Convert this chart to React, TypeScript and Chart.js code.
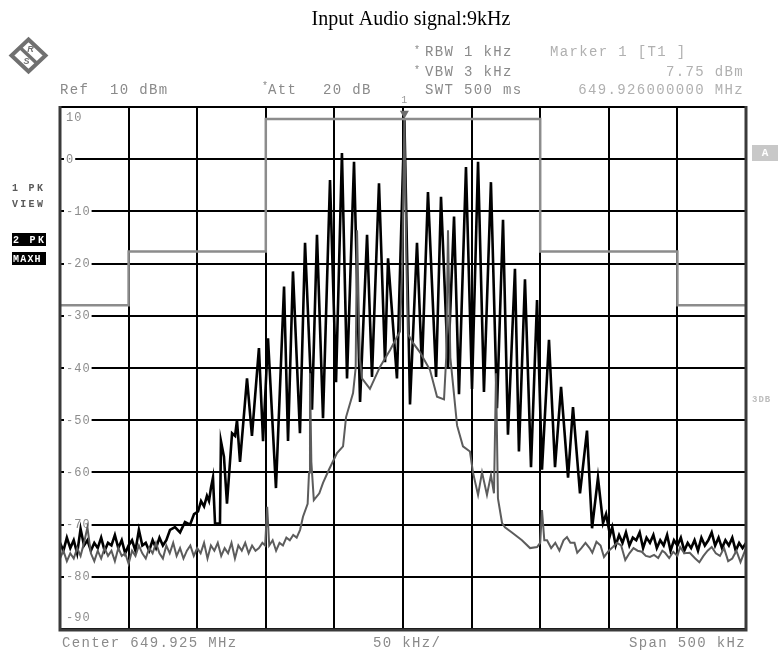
import React, { useEffect, useRef } from "react";
import { Chart, registerables } from "chart.js";

Chart.register(...registerables);

const TITLE = "Input Audio signal:9kHz";
const yTickValues = [10, 0, -10, -20, -30, -40, -50, -60, -70, -80, -90];
const xMinKHz = -250;
const xMaxKHz = 250;
const xStepKHz = 50;

// limit line (step mask)
const limitFreq = [-250, -200, -200, -100, -100, 100, 100, 200, 200, 250];
const limitLevel = [-28, -28, -17.7, -17.7, 7.7, 7.7, -17.7, -17.7, -28, -28];

// trace 2 (PK MAXH, black)
const blackFreq = [
  -250, -247.5, -245, -242.5, -240, -237.5, -235, -232.5, -230, -227.5, -225, -222.5, -220, -217.5, -215, -212.5,
  -210, -207.5, -205, -202.5, -200, -197.5, -195, -192.5, -190, -187.5, -185, -182.5, -180, -177.5, -175, -172.5,
  -169.8, -166.2, -162.5, -158.9, -155.2, -152.3, -149.4, -147.2, -145, -142.9, -141.4, -140, -138.5, -137, -133.4,
  -132.7, -130.5, -128.3, -124.6, -122.4, -121, -118.8, -113.7, -110.1, -105, -102, -98.4, -92.6, -86.7, -83.8,
  -80.2, -75.1, -71.4, -66.3, -62.7, -58.3, -53.2, -48.8, -44.5, -40.8, -35.7, -31.3, -26.2, -22.6, -17.5, -13.1,
  -10.9, -4.4, 1, 5.1, 10.2, 13.8, 18.2, 24.1, 27.7, 32.8, 37.2, 40.8, 45.9, 50.3, 54.7, 59, 64.1, 68.5, 72.9, 76.5,
  81.6, 84.5, 88.9, 93.3, 97.7, 101.3, 106.4, 110.8, 115.2, 120.3, 123.9, 129, 134.1, 137.8, 142.1, 145.8, 148,
  150.9, 152.5, 155, 157.5, 160, 162.5, 165, 167.5, 170, 172.5, 175, 177.5, 180, 182.5, 185, 187.5, 190, 192.5,
  195, 197.5, 200, 202.5, 205, 207.5, 210, 212.5, 215, 217.5, 220, 222.5, 225, 227.5, 230, 232.5, 235, 237.5, 240,
  242.5, 245, 247.5, 250,
];
const blackLevel = [
  -73.5, -75, -72.5, -74.5, -73, -75.5, -70.8, -74, -73, -75, -73.5, -74.5, -72.5, -75, -73.5, -74,
  -72, -74.5, -73, -75.5, -74, -73, -75, -71, -74, -73.5, -75, -73, -74.5, -72.5, -74, -73,
  -71, -70.5, -71.5, -69.5, -70, -68, -67.5, -65.5, -66.5, -64.5, -65.5, -63, -61, -69.8, -69.8,
  -54, -57, -66, -52.5, -53, -50, -58, -42, -53, -36.2, -54, -34.3, -63, -24.4, -54,
  -21.5, -52.5, -16, -48, -14.5, -49.6, -4, -42.7, 1.2, -42, -0.5, -46.5, -14.5, -41.7, -4.6, -38.9,
  -19, -42, 7.75, -47, -16, -40, -6.3, -41.7, -7.2, -40, -11, -45, -1.5, -44, -0.5, -44.6, -4.4, -47.7, -11.6, -52.8,
  -21, -56, -23, -59, -27, -59.5, -34.6, -59, -43.6, -61, -47.5, -64, -52, -70.7, -61, -69.7, -68,
  -72, -70.5, -74, -72, -73.5, -71.5, -74, -72.5, -73, -71.5, -74.5, -72.5, -73.5, -72, -74.5, -73, -74, -72,
  -75, -73, -74, -72.5, -75, -73.5, -74.5, -73, -75, -72.5, -74, -73, -71.5, -74, -72.5, -74.5, -73, -74, -72.5,
  -75, -73.5, -74.5, -73.5,
];

// trace 1 (PK VIEW, grey)
const grayFreq = [
  -250, -247.5, -245, -242.5, -240, -237.5, -235, -232.5, -230, -227.5, -225, -222.5, -220, -217.5, -215, -212.5,
  -210, -207.5, -205, -202.5, -200, -197.5, -195, -192.5, -190, -187.5, -185, -182.5, -180, -177.5, -175, -172.5,
  -170, -167.5, -165, -162.5, -160, -157.5, -155, -152.5, -150, -147.5, -145, -142.5, -140, -137.5, -135, -132.5,
  -130, -127.5, -125, -122.5, -120, -117.5, -115, -112.5, -110, -107.5, -105, -102.5,
  -100.5, -99, -97.5, -95, -92.5, -90, -87.5, -85, -82.5, -80, -77.5, -75, -72.9, -69.5, -68.5, -67.8, -66.8, -65,
  -61, -58.3, -54, -48.1, -43.7, -41.5, -36.4, -34.5, -33.5, -31.5, -29.9, -24.1, -16.8, -9.5, -2.2, -0.5, 1, 2.5,
  3.6, 7.3, 12.4, 19.7, 24.8, 29.9, 31.5, 32.8, 34.5, 36.4, 39.4, 43.7, 48.8, 51, 54.7, 57.6, 61.2, 64.1, 66.3,
  67.8, 69.2, 72.2, 74.3, 79.4, 86.7, 92.6, 97.7, 100, 101.3, 103,
  105, 108, 111, 114, 117, 119.5, 122, 125, 127, 130, 133, 136, 138, 141, 144, 146.5, 150, 153, 156, 159, 162, 165,
  168, 171, 174, 177, 180, 183, 186, 189, 191, 194, 197, 200, 202, 205, 209, 213, 216, 219, 222, 225, 228, 231, 234,
  237, 240, 243, 246, 250,
];
const grayLevel = [
  -76.5, -75, -77, -75.5, -76.5, -74.5, -76, -73.5, -70.5, -75.5, -77, -75, -76.5, -74.5, -76, -75,
  -77, -74.5, -76, -75.5, -77.5, -75, -76, -74, -75.5, -76.5, -74.5, -75.5, -73.5, -75.5, -76.5, -74,
  -75.5, -73.5, -76, -74.5, -76.5, -75, -74, -76, -74.5, -75.5, -73.5, -76.5, -74, -75, -73.5, -76,
  -74.5, -75.5, -73.5, -76.5, -74, -75, -73.5, -75.5, -74, -75, -74.5, -73.5,
  -74, -66.6, -74, -73, -75, -73.5, -74, -72.5, -73, -72, -72.5, -71, -68.5, -66, -60, -41, -58, -65.3,
  -64, -62, -59.5, -56.3, -55, -49.4, -44.8, -40, -13.6, -38, -42, -44, -39.8, -36.6, -33, -20, 7.75, -20,
  -33.5, -35.2, -37, -40.4, -45.5, -46, -38, -13.6, -38, -43, -51, -55, -56, -60, -64.3, -60, -64.3, -60.5, -64,
  -41, -65, -69.7, -70.5, -71.5, -73, -74.5, -74.3, -73.5, -67.2, -73,
  -73, -74.5, -73.5, -75, -73, -72.4, -73.5, -73.5, -75.4, -74.5, -73.5, -74.5, -75.4, -73.3, -74, -76.2, -75, -74.3,
  -73.5, -74, -76.8, -75.5, -74.5, -75, -75.2, -76, -76.2, -75.8, -76.4, -75, -75.4, -76.4, -75.2, -76, -74.3, -75.5,
  -75.4, -76.5, -77.2, -76, -75, -74.3, -75.5, -76, -74.5, -77, -76.5, -75, -77.2, -74.5,
];

const markerFreq = 1;
const markerLevel = 7.75;

const pts = (f: number[], v: number[]) => f.map((x, i) => ({ x, y: v[i] }));

const MONO = "'Liberation Mono', 'DejaVu Sans Mono', monospace";

function txt(
  ctx: CanvasRenderingContext2D,
  s: string,
  x: number,
  y: number,
  color: string,
  font = `14px ${MONO}`,
  align: CanvasTextAlign = "left",
  spacing = "1.35px"
) {
  ctx.save();
  ctx.font = font;
  (ctx as any).letterSpacing = spacing;
  ctx.fillStyle = color;
  ctx.textAlign = align;
  ctx.textBaseline = "middle";
  ctx.fillText(s, x, y);
  ctx.restore();
}

const overlayPlugin = {
  id: "overlay",
  beforeDatasetsDraw(chart: any) {
    const ctx: CanvasRenderingContext2D = chart.ctx;
    const ys = chart.scales.y;
    const left = chart.chartArea.left;
    ctx.save();
    for (const v of yTickValues) {
      const py = ys.getPixelForValue(v);
      const label = String(v);
      ctx.font = `12px ${MONO}`;
      (ctx as any).letterSpacing = "1px";
      const w = ctx.measureText(label).width;
      let cy = py;
      if (v === yTickValues[0]) cy = py + 10;
      else if (v === yTickValues[yTickValues.length - 1]) cy = py - 12;
      else {
        ctx.fillStyle = "#ffffff";
        ctx.fillRect(left + 4, py - 3, w + 3, 6);
      }
      txt(ctx, label, left + 6, cy + 0.5, "#8c8c8c", `12px ${MONO}`, "left", "1px");
    }
    ctx.restore();
  },
  afterDraw(chart: any) {
    const ctx: CanvasRenderingContext2D = chart.ctx;
    const { left, right, top, bottom } = chart.chartArea;
    const xs = chart.scales.x;
    const ys = chart.scales.y;

    // frame
    ctx.save();
    ctx.strokeStyle = "#000";
    ctx.lineWidth = 2;
    ctx.beginPath();
    ctx.moveTo(left, top);
    ctx.lineTo(right, top);
    ctx.stroke();
    ctx.strokeStyle = "#3a3a3a";
    ctx.lineWidth = 3;
    ctx.beginPath();
    ctx.moveTo(left, top - 1);
    ctx.lineTo(left, bottom + 1);
    ctx.lineTo(right, bottom + 1);
    ctx.lineTo(right, top - 1);
    ctx.stroke();
    ctx.restore();

    // marker
    const mx = xs.getPixelForValue(markerFreq);
    const my = ys.getPixelForValue(markerLevel);
    ctx.save();
    ctx.fillStyle = "#6e6e6e";
    ctx.beginPath();
    ctx.moveTo(mx - 4.5, my - 8);
    ctx.lineTo(mx + 4.5, my - 8);
    ctx.lineTo(mx, my);
    ctx.closePath();
    ctx.fill();
    ctx.restore();
    txt(ctx, "1", mx, top - 7, "#9a9a9a", `10px ${MONO}`, "center", "0px");

    // title
    ctx.save();
    ctx.font = "20px 'Liberation Serif', 'Times New Roman', serif";
    ctx.fillStyle = "#000";
    ctx.textAlign = "center";
    ctx.textBaseline = "alphabetic";
    ctx.fillText(TITLE, 411, 25);
    ctx.restore();

    // R&S logo
    ctx.save();
    ctx.translate(28.5, 55.5);
    ctx.beginPath();
    ctx.moveTo(0, -16);
    ctx.lineTo(17, 0);
    ctx.lineTo(0, 16);
    ctx.lineTo(-17, 0);
    ctx.closePath();
    ctx.fillStyle = "#fff";
    ctx.fill();
    ctx.strokeStyle = "#707070";
    ctx.lineWidth = 4;
    ctx.stroke();
    ctx.beginPath();
    ctx.moveTo(-8.5, -8);
    ctx.lineTo(8.5, 8);
    ctx.lineWidth = 3.5;
    ctx.stroke();
    ctx.fillStyle = "#707070";
    ctx.font = "bold italic 9px 'Liberation Sans', sans-serif";
    ctx.textAlign = "center";
    ctx.textBaseline = "middle";
    ctx.fillText("R", 2, -6);
    ctx.fillText("S", -2, 6);
    ctx.restore();

    // header texts
    const g = "#8a8a8a";
    const lg = "#b0b0b0";
    txt(ctx, "Ref", 60, 90, g);
    txt(ctx, "10 dBm", 110, 90, g);
    txt(ctx, "*", 262, 86, g, `10px ${MONO}`, "left", "0px");
    txt(ctx, "Att", 268, 90, g);
    txt(ctx, "20 dB", 323, 90, g);
    txt(ctx, "*", 414, 50, g, `10px ${MONO}`, "left", "0px");
    txt(ctx, "RBW 1 kHz", 425, 52, g);
    txt(ctx, "*", 414, 70, g, `10px ${MONO}`, "left", "0px");
    txt(ctx, "VBW 3 kHz", 425, 72, g);
    txt(ctx, "SWT 500 ms", 425, 90, g);
    txt(ctx, "Marker 1 [T1 ]", 550, 52, lg);
    txt(ctx, "7.75 dBm", 744, 72, lg, `14px ${MONO}`, "right");
    txt(ctx, "649.926000000 MHz", 744, 90, lg, `14px ${MONO}`, "right");

    // footer texts
    txt(ctx, "Center 649.925 MHz", 62, 643, g);
    txt(ctx, "50 kHz/", 373, 643, g);
    txt(ctx, "Span 500 kHz", 746, 643, g, `14px ${MONO}`, "right");

    // left trace labels
    const small = `bold 10px ${MONO}`;
    txt(ctx, "1 PK", 12, 188, "#5a5a5a", small, "left", "2.3px");
    txt(ctx, "VIEW", 12, 204, "#5a5a5a", small, "left", "2.3px");
    ctx.save();
    ctx.fillStyle = "#000";
    ctx.fillRect(12, 233, 34, 13);
    ctx.fillRect(12, 252, 34, 13);
    ctx.restore();
    txt(ctx, "2 PK", 13, 240, "#fff", small, "left", "2.3px");
    txt(ctx, "MAXH", 13, 259, "#fff", small, "left", "1.2px");

    // right side indicators
    ctx.save();
    ctx.fillStyle = "#c8c8c8";
    ctx.fillRect(752, 145, 26, 16);
    ctx.restore();
    txt(ctx, "A", 765, 153, "#fff", `bold 11px ${MONO}`, "center", "0px");
    txt(ctx, "3DB", 752, 400, "#bdbdbd", `bold 9px ${MONO}`, "left", "1px");
  },
};

export default function App() {
  const canvasRef = useRef<HTMLCanvasElement | null>(null);

  useEffect(() => {
    const canvas = canvasRef.current;
    if (!canvas) return;
    const gridCfg = { color: "#000", lineWidth: 2, drawTicks: false };
    const chart = new Chart(canvas, {
      type: "line",
      data: {
        datasets: [
          {
            label: "Limit",
            data: pts(limitFreq, limitLevel),
            borderColor: "#8c8c8c",
            borderWidth: 2.5,
            pointRadius: 0,
            order: 0,
          },
          {
            label: "1 PK VIEW",
            data: pts(grayFreq, grayLevel),
            borderColor: "#5c5c5c",
            borderWidth: 2,
            pointRadius: 0,
            order: 1,
          },
          {
            label: "2 PK MAXH",
            data: pts(blackFreq, blackLevel),
            borderColor: "#000",
            borderWidth: 2.6,
            pointRadius: 0,
            order: 2,
          },
        ],
      },
      options: {
        responsive: false,
        animation: false,
        devicePixelRatio: 1,
        layout: { padding: { left: 60, right: 37, top: 107, bottom: 27 } },
        elements: { line: { tension: 0 }, point: { radius: 0 } },
        plugins: { legend: { display: false }, tooltip: { enabled: false }, title: { display: false } },
        scales: {
          x: {
            type: "linear",
            min: xMinKHz,
            max: xMaxKHz,
            ticks: { display: false, stepSize: xStepKHz },
            grid: gridCfg,
            border: { display: false },
            afterFit: (s: any) => {
              s.height = 0;
            },
          },
          y: {
            type: "linear",
            min: yTickValues[yTickValues.length - 1],
            max: yTickValues[0],
            ticks: { display: false, stepSize: 10 },
            grid: gridCfg,
            border: { display: false },
            afterFit: (s: any) => {
              s.width = 0;
            },
          },
        },
      } as any,
      plugins: [overlayPlugin],
    });
    return () => chart.destroy();
  }, []);

  return (
    <div style={{ position: "absolute", left: 0, top: 0, width: 783, height: 656, background: "#fff" }}>
      <canvas ref={canvasRef} width={783} height={656} style={{ display: "block" }} />
    </div>
  );
}
